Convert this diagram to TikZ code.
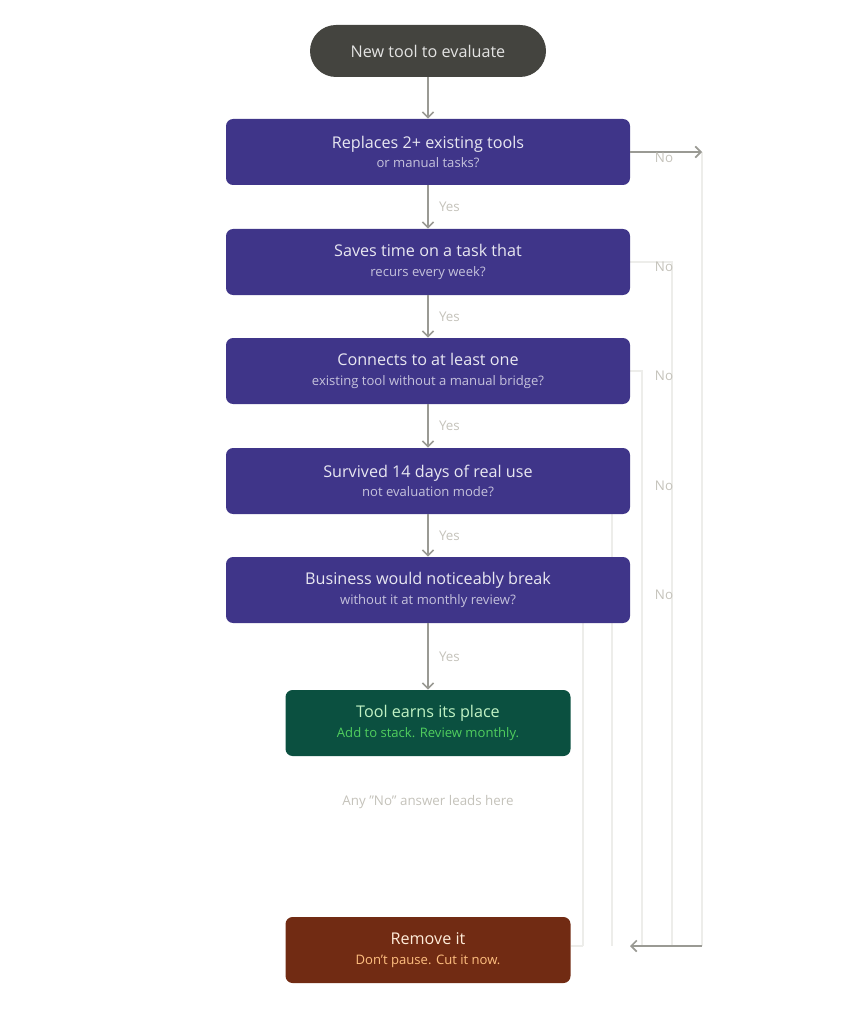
\documentclass[tikz,border=0pt]{standalone}
\usepackage{fontspec}
\setmainfont{Open Sans}
\usetikzlibrary{arrows.meta, positioning}
\definecolor{qpurple}{HTML}{3F3589}
\definecolor{qgreen}{HTML}{0B5040}
\definecolor{qred}{HTML}{712B13}
\definecolor{qstart}{HTML}{44443F}
\definecolor{qgray}{HTML}{9A9A94}
\definecolor{qfaint}{HTML}{EDEDEA}
\definecolor{qlabel}{HTML}{C4C2BA}
\tikzset{
  box/.style={rounded corners=5pt, minimum width=404*0.025cm, minimum height=66*0.025cm, align=center, inner sep=0pt},
  question/.style={box, fill=qpurple},
  result/.style={box, minimum width=285*0.025cm},
  flow/.style={draw=qgray, line width=1.2pt, -{Straight Barb[length=4pt,width=8pt]}},
  faint/.style={draw=qfaint, line width=0.8pt},
  lab/.style={text=qlabel, font=\fontsize{9.5}{11}\selectfont},
}
\newcommand{\qtext}[4]{{\color{#1}\fontsize{11.5}{14}\selectfont #2}\\[2pt]{\color{#3}\fontsize{9.3}{11}\selectfont #4}}
\begin{document}
\begin{tikzpicture}[x=0.025cm, y=-0.025cm]
        \useasboundingbox (0,0) rectangle (857,1024);
        % Faint No-lines, drawn behind the boxes
        \coordinate (r1) at (702,946);
        \draw[faint] (630,262) -| (672,946);
        \draw[faint] (630,371) -| (642,946);
        \draw[faint] (630,481) -| (612,946);
        \draw[faint] (630,590) -| (583,946);
        \draw[faint] (702,152) -- (r1);
        \draw[faint] (583,946) -- (571,946);

        % Nodes
        \node[box, fill=qstart, rounded corners=26*0.025cm, minimum width=236*0.025cm, minimum height=52*0.025cm] (start) at (428,51) {\color{qstart!15}\fontsize{11.5}{14}\selectfont New tool to evaluate};
        \node[question] (q1) at (428,152) {\qtext{qpurple!12}{Replaces 2+ existing tools}{qpurple!30}{or manual tasks?}};
        \node[question] (q2) at (428,262) {\qtext{qpurple!12}{Saves time on a task that}{qpurple!30}{recurs every week?}};
        \node[question] (q3) at (428,371) {\qtext{qpurple!12}{Connects to at least one}{qpurple!30}{existing tool without a manual bridge?}};
        \node[question] (q4) at (428,481) {\qtext{qpurple!12}{Survived 14 days of real use}{qpurple!30}{not evaluation mode?}};
        \node[question] (q5) at (428,590) {\qtext{qpurple!12}{Business would noticeably break}{qpurple!30}{without it at monthly review?}};
        \node[result, fill=qgreen] (keep) at (428,723) {\qtext{qgreen!30!green!25!white}{Tool earns its place}{green!60!qgreen!70!white}{Add to stack. Review monthly.}};
        \node[result, fill=qred] (drop) at (428,950) {\qtext{orange!15!white}{Remove it}{orange!50!white}{Don't pause. Cut it now.}};
        \node[lab] (note) at (428,802) {Any "No" answer leads here};

        % Yes arrows
        \draw[flow] (start) -- (q1);
        \draw[flow] (q1) -- node[lab, right=4pt] {Yes} (q2);
        \draw[flow] (q2) -- node[lab, right=4pt] {Yes} (q3);
        \draw[flow] (q3) -- node[lab, right=4pt] {Yes} (q4);
        \draw[flow] (q4) -- node[lab, right=4pt] {Yes} (q5);
        \draw[flow] (q5) -- node[lab, right=4pt] {Yes} (keep);

        % No arrows
        \draw[flow] (q1.east) -- (702,152);
        \draw[flow] (r1) -- (630,946);
        \foreach \y in {158,267,376,486,595}
          \node[lab] at (664,\y) {No};
    \end{tikzpicture}
\end{document}
